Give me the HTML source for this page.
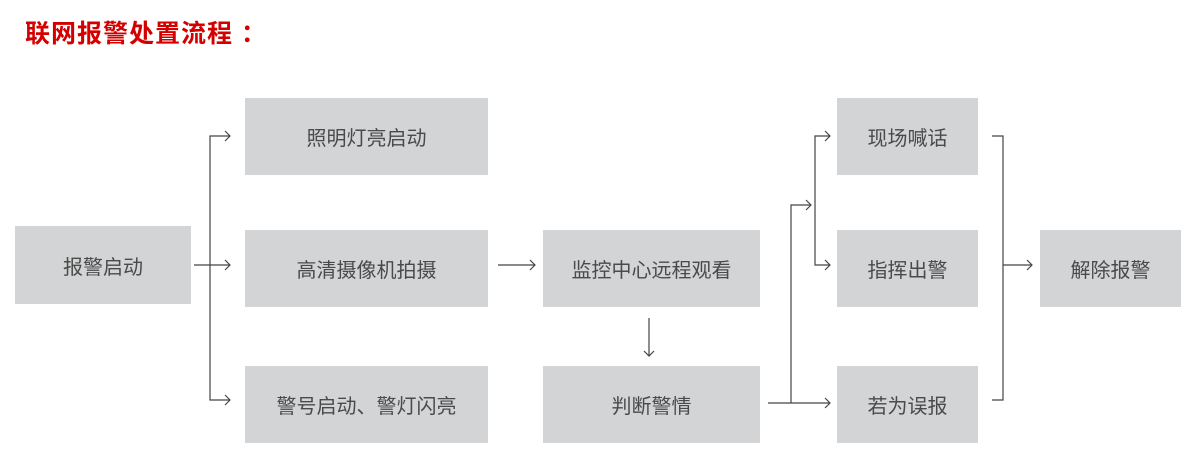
<!DOCTYPE html>
<html><head><meta charset="utf-8"><style>
body{margin:0;width:1200px;height:468px;background:#fff;position:relative;overflow:hidden;font-family:"Liberation Sans","Noto Sans CJK SC",sans-serif}
.t{position:absolute;left:25px;top:14px;font-size:25px;font-weight:bold;color:#d40000;letter-spacing:1px}
.b{position:absolute;background:#d3d4d5;color:#4a4a4a;font-size:20px;display:flex;align-items:center;justify-content:center}
svg{position:absolute;left:0;top:0}
</style></head><body>
<div class="t">联网报警处置流程 ：</div>
<div class="b" style="left:15px;top:226px;width:176px;height:78px">报警启动</div>
<div class="b" style="left:245px;top:98px;width:243px;height:77px">照明灯亮启动</div>
<div class="b" style="left:245px;top:230px;width:243px;height:77px">高清摄像机拍摄</div>
<div class="b" style="left:245px;top:366px;width:243px;height:77px">警号启动、警灯闪亮</div>
<div class="b" style="left:543px;top:230px;width:217px;height:77px">监控中心远程观看</div>
<div class="b" style="left:543px;top:366px;width:217px;height:77px">判断警情</div>
<div class="b" style="left:837px;top:98px;width:141px;height:77px">现场喊话</div>
<div class="b" style="left:837px;top:230px;width:141px;height:77px">指挥出警</div>
<div class="b" style="left:837px;top:366px;width:141px;height:77px">若为误报</div>
<div class="b" style="left:1040px;top:230px;width:141px;height:77px">解除报警</div>
<svg width="1200" height="468" fill="none" stroke="#444" stroke-width="1.2">
<path d="M230 136H210V400H230M194 265H230M498 265H535M649 318V356M768 403H830M791 403V205H811M830 136H815V265H830M992 136H1003V400H992M1003 265H1032"/>
<path d="M225 131l5 5-5 5M225 260l5 5-5 5M225 395l5 5-5 5M530 260l5 5-5 5M644 351l5 5 5-5M825 398l5 5-5 5M806 200l5 5-5 5M825 131l5 5-5 5M825 260l5 5-5 5M1027 260l5 5-5 5"/>
</svg>
</body></html>
